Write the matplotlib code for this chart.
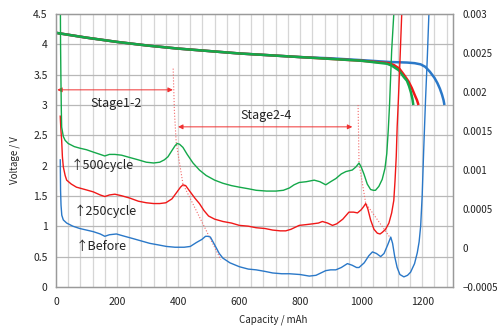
import matplotlib
matplotlib.use("Agg")
import matplotlib.pyplot as plt
import numpy as np

plt.rcParams['font.family'] = ['Noto Sans CJK JP', 'DejaVu Sans']

# discharge curves: (capacity mAh, voltage V)
volt_before = [(0, 4.19), (100, 4.11), (200, 4.04), (300, 3.98), (400, 3.93), (500, 3.89), (600, 3.85),
               (700, 3.82), (800, 3.79), (900, 3.77), (1000, 3.74), (1090, 3.71), (1150, 3.70), (1175, 3.69),
               (1195, 3.67), (1210, 3.63), (1225, 3.55), (1240, 3.45), (1250, 3.36), (1258, 3.27),
               (1265, 3.17), (1270, 3.08), (1273, 3.0)]
volt_250 = [(0, 4.19), (100, 4.11), (200, 4.04), (300, 3.98), (400, 3.93), (500, 3.89), (600, 3.85),
            (700, 3.82), (800, 3.79), (900, 3.76), (1000, 3.73), (1090, 3.69), (1107, 3.66), (1125, 3.60),
            (1140, 3.50), (1155, 3.39), (1166, 3.28), (1176, 3.16), (1183, 3.08), (1188, 3.0)]
volt_500 = [(0, 4.19), (100, 4.11), (200, 4.04), (300, 3.98), (400, 3.93), (500, 3.89), (600, 3.85),
            (700, 3.82), (800, 3.79), (900, 3.76), (1000, 3.73), (1085, 3.68), (1100, 3.65), (1112, 3.61),
            (1124, 3.57), (1140, 3.46), (1150, 3.40), (1157, 3.31), (1163, 3.21), (1168, 3.10), (1171, 3.0)]

# dV/dQ curves: (capacity mAh, dV/dQ)
dvdq_before = [(14, 0.00113), (15, 0.00074), (16.5, 0.00055), (19, 0.00042), (24, 0.00036), (35, 0.00032),
               (55, 0.00028), (78, 0.00025), (100, 0.00023), (122, 0.00021), (145, 0.00018), (160, 0.00015),
               (175, 0.00017), (198, 0.00018), (225, 0.00015), (253, 0.00012), (280, 0.00009), (307, 0.00006),
               (335, 0.00004), (362, 0.00002), (390, 0.00001), (420, 0.00001), (440, 0.00002), (460, 0.00007),
               (478, 0.00011), (490, 0.00015), (498, 0.00015), (506, 0.00014), (520, 0.00004), (535, -0.00007),
               (547, -0.00013), (570, -0.00019), (601, -0.00024), (630, -0.00027), (656, -0.00028),
               (685, -0.00030), (710, -0.00032), (740, -0.00033), (765, -0.00033), (800, -0.00034),
               (830, -0.00036), (852, -0.00035), (868, -0.00032), (884, -0.00029), (900, -0.00028),
               (917, -0.00028), (935, -0.00025), (955, -0.00020), (970, -0.00022), (985, -0.00025),
               (993, -0.00025), (1010, -0.00019), (1025, -0.00010), (1037, -0.00005), (1050, -0.00007),
               (1064, -0.00011), (1075, -0.00007), (1087, 0.00004), (1097, 0.00014), (1103, 0.00006),
               (1110, -0.00011), (1118, -0.00025), (1127, -0.00034), (1140, -0.00037), (1152, -0.00035),
               (1162, -0.00031), (1175, -0.00020), (1184, -0.00006), (1190, 0.00008), (1195, 0.00028),
               (1200, 0.00067), (1205, 0.00126), (1211, 0.00190), (1217, 0.00246), (1222, 0.00300),
               (1226, 0.00339)]
dvdq_250 = [(14, 0.00169), (16, 0.00152), (18.6, 0.00138), (21, 0.00117), (24, 0.00104), (30, 0.00093),
            (35, 0.00087), (50, 0.00082), (67, 0.00078), (95, 0.00075), (122, 0.00072), (145, 0.00068),
            (160, 0.00066), (175, 0.00068), (193, 0.00069), (215, 0.00067), (242, 0.00064), (270, 0.00060),
            (296, 0.00058), (320, 0.00057), (340, 0.00057), (360, 0.00058), (380, 0.00063), (395, 0.00071),
            (408, 0.00078), (416, 0.00081), (425, 0.00080), (438, 0.00073), (455, 0.00064), (470, 0.00057),
            (485, 0.00048), (500, 0.00041), (520, 0.00037), (547, 0.00034), (575, 0.00032), (601, 0.00029),
            (630, 0.00028), (656, 0.00026), (685, 0.00025), (710, 0.00023), (735, 0.00022), (753, 0.00022),
            (770, 0.00024), (797, 0.00029), (820, 0.00030), (841, 0.00031), (860, 0.00032), (873, 0.00034),
            (890, 0.00032), (906, 0.00029), (920, 0.00031), (940, 0.00037), (960, 0.00046), (975, 0.00046),
            (988, 0.00045), (1000, 0.00049), (1008, 0.00053), (1015, 0.00057), (1022, 0.00050),
            (1031, 0.00036), (1042, 0.00024), (1053, 0.00019), (1062, 0.00018), (1069, 0.00020),
            (1080, 0.00024), (1091, 0.00032), (1100, 0.00045), (1107, 0.00061), (1111, 0.00086),
            (1115, 0.00117), (1118, 0.00155), (1122, 0.00190), (1127, 0.00238), (1133, 0.00300),
            (1136, 0.00339)]
dvdq_500 = [(14, 0.00339), (15, 0.00261), (16, 0.00222), (17.5, 0.00176), (18.6, 0.00155), (24, 0.00143),
            (30, 0.00138), (40, 0.00134), (60, 0.00130), (78, 0.00128), (100, 0.00126), (122, 0.00123),
            (145, 0.00120), (160, 0.00118), (175, 0.00120), (193, 0.00120), (215, 0.00119), (242, 0.00116),
            (270, 0.00113), (296, 0.00110), (320, 0.00109), (340, 0.00110), (355, 0.00113), (367, 0.00117),
            (380, 0.00125), (390, 0.00131), (397, 0.00134), (405, 0.00133), (416, 0.00129), (430, 0.00120),
            (449, 0.00109), (470, 0.00100), (492, 0.00093), (520, 0.00087), (547, 0.00083), (575, 0.00080),
            (601, 0.00078), (630, 0.00076), (656, 0.00074), (690, 0.00073), (721, 0.00073), (745, 0.00074),
            (765, 0.00077), (780, 0.00081), (797, 0.00084), (820, 0.00085), (846, 0.00087), (865, 0.00085),
            (884, 0.00081), (900, 0.00085), (917, 0.00089), (935, 0.00095), (950, 0.00098), (971, 0.00100),
            (983, 0.00104), (993, 0.00109), (1000, 0.00104), (1009, 0.00095), (1020, 0.00082),
            (1031, 0.00075), (1040, 0.00074), (1047, 0.00074), (1058, 0.00079), (1069, 0.00088),
            (1078, 0.00102), (1084, 0.00121), (1089, 0.00152), (1093, 0.00183), (1100, 0.00253),
            (1107, 0.00300), (1110, 0.00339)]

# peak guide lines: (capacity mAh, voltage V)
guide_stage12 = [(384, 3.6), (388, 2.9), (394, 2.38), (416, 1.7), (540, 0.45)]
guide_stage24 = [(990, 3.0), (993, 2.04), (1015, 1.38), (1097, 0.80)]

BLUE = '#2a78c8'
RED = '#f01818'
GREEN = '#14a84a'
GUIDE = '#f26a6a'

fig = plt.figure(figsize=(4.99, 3.36), dpi=100)
ax = fig.add_axes([0.1122, 0.1458, 0.795, 0.8125])
ax2 = ax.twinx()

ax.set_xlim(0, 1300)
ax.set_ylim(0, 4.5)
ax2.set_ylim(-0.0005, 0.003)

# grid
for xv in np.arange(40, 1300, 40):
    ax.axvline(xv, color='#d6d6d6', lw=0.9, zorder=0)
for yv in np.arange(0.5, 4.5, 0.5):
    ax.axhline(yv, color='#b8b8b8', lw=0.9, zorder=0)

for pts, c in ((volt_before, BLUE), (volt_250, RED), (volt_500, GREEN)):
    cap, v = zip(*pts)
    ax.plot(cap, v, color=c, lw=1.8, solid_capstyle='butt')

for pts, c in ((dvdq_before, BLUE), (dvdq_250, RED), (dvdq_500, GREEN)):
    cap, d = zip(*pts)
    ax2.plot(cap, d, color=c, lw=1.0)

for pts in (guide_stage12, guide_stage24):
    cap, v = zip(*pts)
    ax.plot(cap, v, color=GUIDE, lw=0.8, ls=':')

arrow = dict(arrowstyle='<|-|>', color='#f03030', lw=0.7, mutation_scale=7, shrinkA=0, shrinkB=0)
ax.annotate('', xy=(4, 3.25), xytext=(383, 3.25), arrowprops=arrow)
ax.annotate('', xy=(400, 2.64), xytext=(971, 2.64), arrowprops=arrow)

txt = dict(fontsize=9, color='#222222')
ax.text(196, 3.03, 'Stage1-2', ha='center', va='center', **txt)
ax.text(688, 2.83, 'Stage2-4', ha='center', va='center', **txt)
ax.text(48, 2.01, '↑500cycle', ha='left', va='center', **txt)
ax.text(58, 1.25, '↑250cycle', ha='left', va='center', **txt)
ax.text(64, 0.66, '↑Before', ha='left', va='center', **txt)

ax.set_xticks(np.arange(0, 1201, 200))
ax.set_yticks(np.arange(0, 4.51, 0.5))
ax.set_yticklabels(['0', '0.5', '1', '1.5', '2', '2.5', '3', '3.5', '4', '4.5'])
ax2.set_yticks(np.arange(-0.0005, 0.00301, 0.0005))
ax2.set_yticklabels(['\u22120.0005', '0', '0.0005', '0.001', '0.0015', '0.002', '0.0025', '0.003'])
ax.tick_params(axis='both', length=0, labelsize=7.5, colors='#222222')
ax.tick_params(axis='x', pad=7)
ax.tick_params(axis='y', pad=6)
ax2.tick_params(axis='y', length=0, labelsize=7, colors='#222222', pad=7)

for a in (ax, ax2):
    for s in a.spines.values():
        s.set_color('#9a9a9a')
        s.set_linewidth(0.9)

fig.text(0.547, 0.048, 'Capacity / mAh', ha='center', va='center', fontsize=7, color='#222222')
fig.text(0.030, 0.524, 'Voltage / V', ha='center', va='center', rotation=90, fontsize=7, color='#222222')

fig.savefig('out.png', dpi=100)
